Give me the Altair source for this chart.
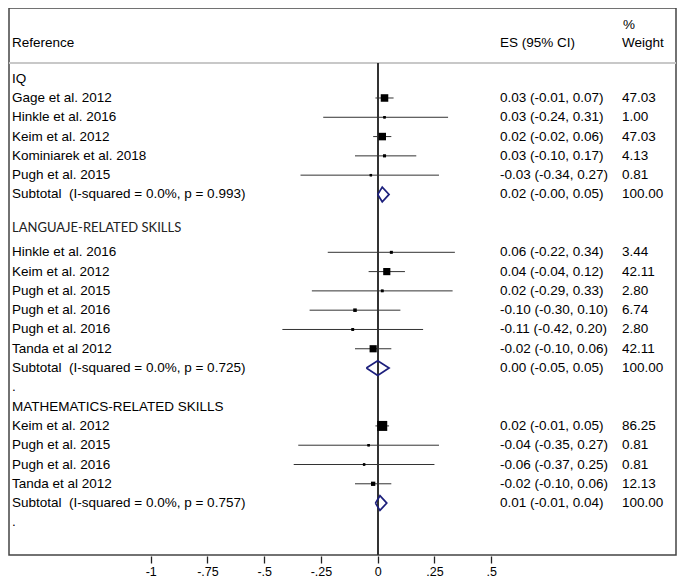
import altair as alt
import pandas as pd

# ---------------- data ----------------
GROUPS = ["IQ", "LANGUAJE-RELATED SKILLS", "MATHEMATICS-RELATED SKILLS"]
STUDY_GROUP = [0, 0, 0, 0, 0,
               1, 1, 1, 1, 1, 1,
               2, 2, 2, 2]
STUDIES = ["Gage et al. 2012", "Hinkle et al. 2016", "Keim et al. 2012",
           "Kominiarek et al. 2018", "Pugh et al. 2015",
           "Hinkle et al. 2016", "Keim et al. 2012", "Pugh et al. 2015",
           "Pugh et al. 2016", "Pugh et al. 2016", "Tanda et al 2012",
           "Keim et al. 2012", "Pugh et al. 2015", "Pugh et al. 2016",
           "Tanda et al 2012"]
ES = [0.03, 0.03, 0.02, 0.03, -0.03,
      0.06, 0.04, 0.02, -0.10, -0.11, -0.02,
      0.02, -0.04, -0.06, -0.02]
LO = [-0.01, -0.24, -0.02, -0.10, -0.34,
      -0.22, -0.04, -0.29, -0.30, -0.42, -0.10,
      -0.01, -0.35, -0.37, -0.10]
HI = [0.07, 0.31, 0.06, 0.17, 0.27,
      0.34, 0.12, 0.33, 0.10, 0.20, 0.06,
      0.05, 0.27, 0.25, 0.06]
WEIGHT = [47.03, 1.00, 47.03, 4.13, 0.81,
          3.44, 42.11, 2.80, 6.74, 2.80, 42.11,
          86.25, 0.81, 0.81, 12.13]

SUB_STATS = ["I-squared = 0.0%, p = 0.993",
             "I-squared = 0.0%, p = 0.725",
             "I-squared = 0.0%, p = 0.757"]
SUB_ES = [0.02, 0.00, 0.01]
SUB_LO = [-0.00, -0.05, -0.01]
SUB_HI = [0.05, 0.05, 0.04]
SUB_WEIGHT = [100.00, 100.00, 100.00]
GROUP_END_MARK = ["", ".", "."]

HEADER_LEFT = "Reference"
HEADER_ES = "ES (95% CI)"
HEADER_W1 = "%"
HEADER_W2 = "Weight"

TICK_VALUES = [-1, -0.75, -0.5, -0.25, 0, 0.25, 0.5]
TICK_LABELS = ["-1", "-.75", "-.5", "-.25", "0", ".25", ".5"]

# ---------------- layout (row positions) ----------------
HEADER_SHIFT = [0.0, -0.26, 0.0]
studies_rows, headers_rows, sub_rows, dot_rows = [], [], [], []
cursor = 0
for g, name in enumerate(GROUPS):
    headers_rows.append(dict(r=cursor + HEADER_SHIFT[g], label=name, g=g))
    cursor += 1
    for i, sg in enumerate(STUDY_GROUP):
        if sg == g:
            studies_rows.append(dict(
                r=cursor, label=STUDIES[i], es=ES[i], lo=LO[i], hi=HI[i],
                w=WEIGHT[i],
                es_txt=f"{ES[i]:.2f} ({LO[i]:.2f}, {HI[i]:.2f})",
                w_txt=f"{WEIGHT[i]:.2f}"))
            cursor += 1
    sub_rows.append(dict(
        r=cursor, label=f"Subtotal\u00a0 ({SUB_STATS[g]})", es=SUB_ES[g],
        lo=SUB_LO[g], hi=SUB_HI[g],
        es_txt=f"{SUB_ES[g]:.2f} ({SUB_LO[g]:.2f}, {SUB_HI[g]:.2f})",
        w_txt=f"{SUB_WEIGHT[g]:.2f}", g=g))
    cursor += 1
    if GROUP_END_MARK[g]:
        dot_rows.append(dict(r=cursor, label=GROUP_END_MARK[g]))
    cursor += 1

st = pd.DataFrame(studies_rows)
hd = pd.DataFrame(headers_rows)
sb = pd.DataFrame(sub_rows)
dt = pd.DataFrame(dot_rows)

DH = 0.38
dia = []
for _, s in sb.iterrows():
    pts = [(s.lo, s.r), (s.es, s.r - DH), (s.hi, s.r), (s.es, s.r + DH), (s.lo, s.r)]
    for k, (xx, yy) in enumerate(pts):
        dia.append(dict(g=s.g, o=k, x=xx, r=yy))
dia = pd.DataFrame(dia)

top = pd.DataFrame([
    dict(r=-1.85, label=HEADER_LEFT, col="left"),
    dict(r=-1.85, label=HEADER_ES, col="es"),
    dict(r=-2.8, label=HEADER_W1, col="w1"),
    dict(r=-1.85, label=HEADER_W2, col="w"),
])

# ---------------- scales ----------------
W, H = 667, 547
X0PIX = 368.7
PPU = 227.0
ROW0, ROWH = 70.7, 19.29
xscale = alt.Scale(domain=[-X0PIX / PPU, (W - X0PIX) / PPU], nice=False, zero=False)
yscale = alt.Scale(domain=[-ROW0 / ROWH, (H - ROW0) / ROWH], reverse=True,
                   nice=False, zero=False)

FONT = "Liberation Sans"
FS = 13.5
X_LABEL, X_ES, X_W = 3, 491, 613

label_expr = " : ".join(
    f"datum.value == {v} ? '{l}'" for v, l in zip(TICK_VALUES, TICK_LABELS)) + " : ''"

AX = alt.Axis(values=TICK_VALUES, labelExpr=label_expr, title=None,
              domain=False, grid=False, tickSize=7, tickWidth=1.3,
              tickColor="#222222", offset=1, labelPadding=2,
              labelFont=FONT, labelFontSize=12.5, labelColor="#000000")


def X(field):
    return alt.X(f"{field}:Q", scale=xscale, axis=AX, title=None)


Y = alt.Y("r:Q", scale=yscale, axis=None)

ci = alt.Chart(st).mark_rule(color="#333333", strokeWidth=1).encode(
    x=X("lo"), x2="hi:Q", y=Y)

boxes = alt.Chart(st).mark_square(color="#000000", opacity=1).encode(
    x=X("es"), y=Y,
    size=alt.Size("w:Q", scale=alt.Scale(domain=[0, 100], range=[5, 115]), legend=None))

dots = alt.Chart(st).mark_square(color="#000000", size=5, opacity=1).encode(
    x=X("es"), y=Y)

diamonds = alt.Chart(dia).mark_line(color="#1c1f7c", strokeWidth=1.7).encode(
    x=X("x"), y=Y, detail="g:N", order="o:Q")

zero = alt.Chart(st).mark_rule(color="#333333", strokeWidth=1.1).encode(
    x=alt.datum(0), y=alt.value(55), y2=alt.value(H))

sep = alt.Chart(st).mark_rule(color="#c8c8c8", strokeWidth=2).encode(
    x=alt.value(0), x2=alt.value(W), y=alt.value(55))


def txt(df, field, x, font=FONT, size=FS, color="#000000"):
    return alt.Chart(df).mark_text(align="left", baseline="middle", font=font,
                                   fontSize=size, color=color).encode(
        x=alt.value(x), y=Y, text=f"{field}:N")


layers = [
    sep, zero, ci, boxes, dots, diamonds,
    txt(st, "label", X_LABEL), txt(st, "es_txt", X_ES), txt(st, "w_txt", X_W),
    txt(sb, "label", X_LABEL), txt(sb, "es_txt", X_ES), txt(sb, "w_txt", X_W),
    txt(hd[hd.g != 1], "label", X_LABEL),
    txt(hd[hd.g == 1], "label", X_LABEL, font="Lato", size=13, color="#222222"),
    txt(dt, "label", X_LABEL),
    txt(top[top.col == "left"], "label", X_LABEL),
    txt(top[top.col == "es"], "label", X_ES),
    txt(top[top.col == "w1"], "label", X_W + 1),
    txt(top[top.col == "w"], "label", X_W),
]

chart = alt.layer(*layers).properties(width=W, height=H, padding=0).configure_view(
    stroke="#444444", strokeWidth=1.5)

chart.save("out.html", embed_options={"renderer": "svg", "actions": False})
